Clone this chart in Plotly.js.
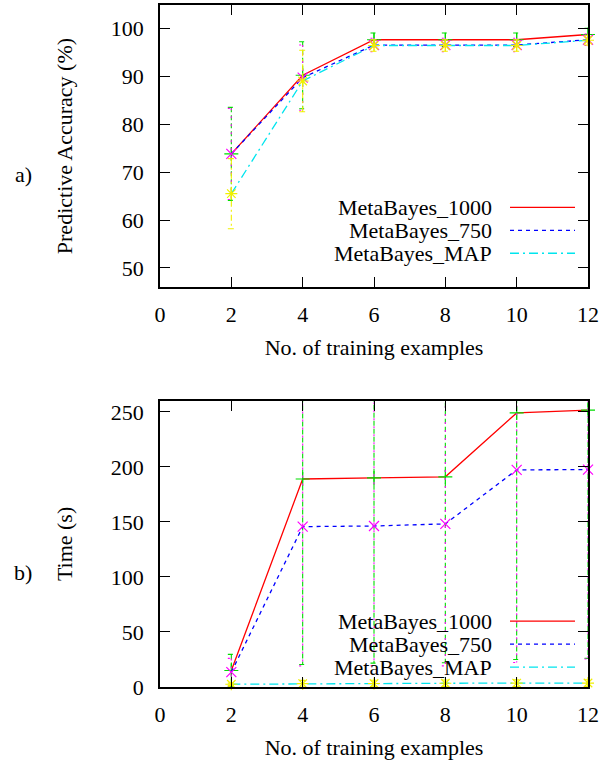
<!DOCTYPE html>
<html>
<head>
<meta charset="utf-8">
<script src="https://cdn.plot.ly/plotly-3.0.1.min.js"></script>
<style>
html,body{margin:0;padding:0;background:#fff;font-family:'Liberation Serif',serif;}
#chart text{font-family:'Liberation Serif','Times New Roman',serif !important;}
</style>
</head>
<body>
<div id="chart"></div>
<script>
// ---- data ----
const trainingExamples = [2, 4, 6, 8, 10, 12];
const seriesNames = ['MetaBayes_1000', 'MetaBayes_750', 'MetaBayes_MAP'];

// a) predictive accuracy (%)
const acc1000 = [73.8, 90.2, 97.6, 97.6, 97.6, 98.7];
const acc1000Err = [9.7, 7.0, 1.4, 1.4, 1.4, 1.3];
const acc750 = [73.8, 89.7, 96.5, 96.5, 96.5, 97.6];
const acc750Err = [9.5, 6.8, 1.4, 1.4, 1.4, 1.2];
const accMAP = [65.5, 89.0, 96.4, 96.4, 96.4, 97.5];
const accMAPErr = [7.3, 6.4, 1.2, 1.2, 1.2, 1.0];

// b) time (s)
const time1000 = [15.0, 189.0, 190.0, 191.0, 249.0, 251.5];
const time1000Err = [14.6, 168.5, 168.3, 169.0, 224.0, 225.5];
const time750 = [13.5, 145.7, 146.3, 148.2, 197.3, 197.5];
const time750Err = [12.5, 126.5, 127.0, 129.0, 175.0, 172.0];
const timeMAP = [2.5, 3.0, 3.2, 3.4, 3.5, 3.6];
const timeMAPErr = [1.0, 3.0, 3.0, 3.0, 3.0, 3.0];

const xTickVals = [0, 2, 4, 6, 8, 10, 12];
const accTickVals = [50, 60, 70, 80, 90, 100];
const timeTickVals = [0, 50, 100, 150, 200, 250];

// ---- styles ----
const FONT = 'Liberation Serif';
const FS = 22;
const lineStyles = [
  {color: '#ff0000', dash: 'solid'},
  {color: '#0000ff', dash: '4px,4px'},
  {color: '#00e5ee', dash: '9px,4px,2px,4px'}
];
const errStyles = [
  {color: '#00dd00', symbol: 'cross-thin-open', dash: '5,3'},
  {color: '#ff00ff', symbol: 'x-thin-open', dash: '2,6'},
  {color: '#f0f000', symbol: 'asterisk-open', dash: '6,3,2,3'}
];

function seriesTraces(xa, ya, ys, errs) {
  const out = [];
  ys.forEach((y, i) => {
    out.push({
      type: 'scatter', mode: 'lines', x: trainingExamples, y: y,
      name: seriesNames[i], xaxis: xa, yaxis: ya, showlegend: false,
      line: {color: lineStyles[i].color, dash: lineStyles[i].dash, width: 1.3}
    });
    out.push({
      type: 'scatter', mode: 'markers', x: trainingExamples, y: y,
      name: seriesNames[i] + ' error', xaxis: xa, yaxis: ya, showlegend: false,
      marker: {size: 1, opacity: 0},
      error_y: {type: 'data', array: errs[i], visible: true, color: errStyles[i].color, thickness: 1.1, width: 3.5},
      cliponaxis: true
    });
    out.push({
      type: 'scatter', mode: 'markers', x: trainingExamples, y: y,
      name: seriesNames[i] + ' points', xaxis: xa, yaxis: ya, showlegend: false,
      marker: {size: 10, symbol: errStyles[i].symbol, color: errStyles[i].color, line: {color: errStyles[i].color, width: 1.2}},
      cliponaxis: false
    });
  });
  return out;
}

const traces = [].concat(
  seriesTraces('x', 'y', [acc1000, acc750, accMAP], [acc1000Err, acc750Err, accMAPErr]),
  seriesTraces('x2', 'y2', [time1000, time750, timeMAP], [time1000Err, time750Err, timeMAPErr])
);

// ---- layout geometry (pixels) ----
const M = {l: 160, r: 15, t: 3, b: 76};
const plotW = 603 - M.l - M.r, plotH = 763 - M.t - M.b;
const px2x = px => (px - M.l) / plotW;
const py2y = py => (763 - M.b - py) / plotH;

function fnt() { return {family: FONT, size: FS, color: '#000'}; }
function axisBase() {
  return {
    showline: true, linecolor: '#000', linewidth: 1.5, mirror: 'ticks',
    ticks: 'inside', ticklen: 10, tickwidth: 1.3, tickcolor: '#000',
    showgrid: false, zeroline: false, tickfont: fnt()
  };
}
function xAxis(anchor) {
  return Object.assign(axisBase(), {
    anchor: anchor, domain: [0, 1], range: [0, 12],
    tickmode: 'array', tickvals: xTickVals, ticklabelstandoff: 7,
    title: {text: 'No. of training examples', font: fnt(), standoff: 13},
    automargin: true
  });
}
function yAxis(anchor, domain, range, ticks, title) {
  return Object.assign(axisBase(), {
    anchor: anchor, domain: domain, range: range,
    tickmode: 'array', tickvals: ticks, ticklabelstandoff: 10,
    title: {text: title, font: fnt(), standoff: 32},
    automargin: true
  });
}

const legendRows = [[206, 229, 252], [621, 644, 667]];
const annotations = [];
const shapes = [];
legendRows.forEach(rows => {
  rows.forEach((py, i) => {
    annotations.push({
      xref: 'paper', yref: 'paper', x: px2x(494), y: py2y(py),
      xanchor: 'right', yanchor: 'middle', showarrow: false,
      text: seriesNames[i], font: fnt()
    });
    shapes.push({
      type: 'line', xref: 'paper', yref: 'paper',
      x0: px2x(510), x1: px2x(575), y0: py2y(py), y1: py2y(py),
      line: {color: lineStyles[i].color, dash: lineStyles[i].dash, width: 1.3}
    });
  });
});
annotations.push({xref: 'paper', yref: 'paper', x: px2x(23), y: py2y(173), xanchor: 'center', yanchor: 'middle',
  showarrow: false, text: 'a)', font: fnt()});
annotations.push({xref: 'paper', yref: 'paper', x: px2x(23), y: py2y(572), xanchor: 'center', yanchor: 'middle',
  showarrow: false, text: 'b)', font: fnt()});

const layout = {
  width: 603, height: 763, margin: M, showlegend: false, font: fnt(),
  xaxis: xAxis('y'),
  yaxis: yAxis('x', [py2y(286), 1], [46, 104.85], accTickVals, 'Predictive Accuracy (%)'),
  xaxis2: xAxis('y2'),
  yaxis2: yAxis('x2', [0, py2y(400)], [0, 260], timeTickVals, 'Time (s)'),
  annotations: annotations,
  shapes: shapes
};

function styleErrorBars() {
  const byColor = {};
  errStyles.forEach(s => {
    const h = s.color.replace('#', '');
    const rgb = 'rgb(' + parseInt(h.slice(0, 2), 16) + ', ' + parseInt(h.slice(2, 4), 16) + ', ' + parseInt(h.slice(4, 6), 16) + ')';
    byColor[rgb] = s.dash;
  });
  document.querySelectorAll('path.yerror').forEach(p => {
    const c = p.style.stroke;
    if (byColor[c]) p.style.strokeDasharray = byColor[c];
  });
}

function draw() {
  return Plotly.newPlot('chart', traces, layout, {displayModeBar: false}).then(styleErrorBars);
}

draw().then(() => {
  if (document.fonts && document.fonts.load) {
    document.fonts.load(FS + 'px "' + FONT + '"').then(() => {
      Plotly.purge('chart');
      return draw();
    }).catch(() => {});
  }
});
</script>
</body>
</html>
